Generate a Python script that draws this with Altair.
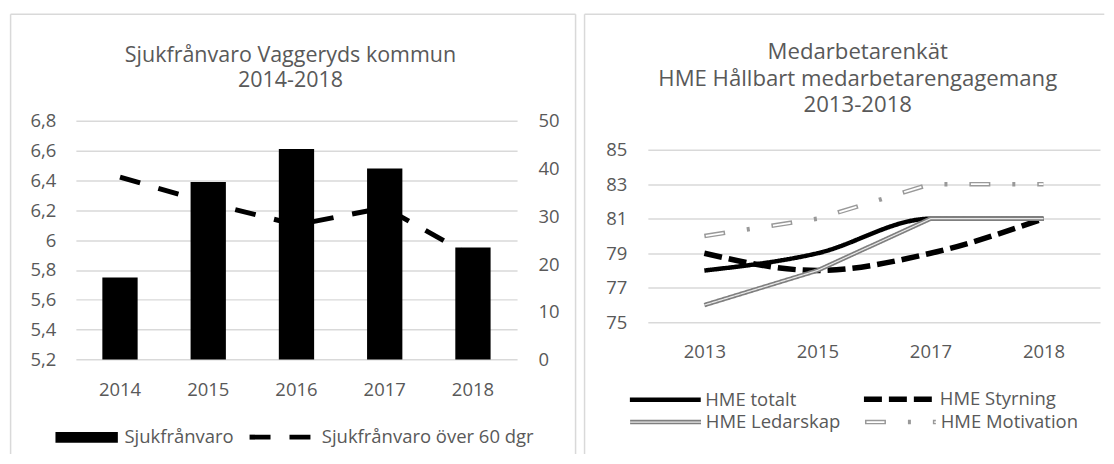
import altair as alt
import pandas as pd

# ---------------- data ----------------
years_left = ["2014", "2015", "2016", "2017", "2018"]
sjukfranvaro = [5.75, 6.39, 6.61, 6.48, 5.95]
sjukfranvaro_60 = [38.2, 32.8, 28.2, 31.8, 21.5]
left_ticks = [5.2, 5.4, 5.6, 5.8, 6.0, 6.2, 6.4, 6.6, 6.8]
right_ticks = [0, 10, 20, 30, 40, 50]

years_right = ["2013", "2015", "2017", "2018"]
hme_totalt = [78, 79, 81, 81]
hme_styrning = [79, 78, 79, 81]
hme_ledarskap = [76, 78, 81, 81]
hme_motivation = [80, 81, 83, 83]
hme_ticks = [75, 77, 79, 81, 83, 85]

left_title = ["Sjukfrånvaro Vaggeryds kommun", "2014-2018"]
right_title = ["Medarbetarenkät", "HME Hållbart medarbetarengagemang", "2013-2018"]

FONT = "Open Sans"
GRAY = "#595959"
GRID = "#d9d9d9"
FRAME = "#d9d9d9"
LBL = 18.5

one = pd.DataFrame({"k": [0]})

# ---------------- left panel ----------------
W1, H1 = 442, 239.3
df_bar = pd.DataFrame({"year": years_left, "value": sjukfranvaro, "series": "Sjukfrånvaro"})
df_l60 = pd.DataFrame({"year": years_left, "value": sjukfranvaro_60, "series": "Sjukfrånvaro över 60 dgr"})

x_left = alt.X("year:N", sort=years_left,
               scale=alt.Scale(paddingInner=0.6, paddingOuter=0.3),
               axis=alt.Axis(title=None, labelAngle=0, domain=False, ticks=False,
                             tickSize=0, labelPadding=21, grid=False))

bars = alt.Chart(df_bar).mark_bar().encode(
    x=x_left,
    y=alt.Y("value:Q", scale=alt.Scale(domain=[5.2, 6.8], zero=False, nice=False),
            axis=alt.Axis(values=left_ticks, title=None, orient="left",
                          labelExpr="replace(format(datum.value, '.1~f'), '.', ',')",
                          grid=True, gridColor=GRID, gridWidth=1.5, domain=False,
                          ticks=False, tickSize=0, labelPadding=20, labelOverlap=False)),
    y2=alt.datum(5.2),
    fill=alt.Fill("series:N", scale=alt.Scale(domain=["Sjukfrånvaro"], range=["#000000"]),
                  legend=alt.Legend(orient="none", legendX=-20.7, legendY=285.75, title=None,
                                    symbolType="M-1,-0.17H1V0.17H-1Z", symbolSize=3906,
                                    symbolStrokeWidth=0, labelOffset=6.4, padding=0,
                                    labelLimit=400)),
)

line60 = alt.Chart(df_l60).mark_line(strokeWidth=5, strokeCap="butt", color="#000000").encode(
    x=x_left,
    y=alt.Y("value:Q", scale=alt.Scale(domain=[0, 50], nice=False),
            axis=alt.Axis(values=right_ticks, title=None, orient="right", grid=False,
                          domain=False, ticks=False, tickSize=0, labelPadding=21)),
    strokeDash=alt.StrokeDash("series:N",
                              scale=alt.Scale(domain=["Sjukfrånvaro över 60 dgr"], range=[[21, 19]]),
                              legend=alt.Legend(orient="none", legendX=171.5, legendY=282, title=None,
                                                symbolType="stroke", symbolSize=4225,
                                                symbolStrokeColor="#000000", symbolStrokeWidth=5,
                                                labelOffset=4.9, padding=0, labelLimit=400)),
)

lx0, lx1, ly0, ly1 = -65.4, 500.6, -106.7, 334
frame_l = [
    alt.Chart(one).mark_rule(color=FRAME, strokeWidth=1.5).encode(
        x=alt.value(lx0), y=alt.value(ly0), y2=alt.value(ly1)),
    alt.Chart(one).mark_rule(color=FRAME, strokeWidth=1.5).encode(
        x=alt.value(lx0), x2=alt.value(lx1), y=alt.value(ly0)),
    alt.Chart(one).mark_rule(color=FRAME, strokeWidth=1.5).encode(
        x=alt.value(lx1), y=alt.value(ly0), y2=alt.value(ly1)),
]
title_l = alt.Chart(one).mark_text(text=left_title, font=FONT, fontSize=21.5, color=GRAY,
                                   lineHeight=25.5, align="center", baseline="alphabetic").encode(
    x=alt.value(215), y=alt.value(-58.8))

left = alt.layer(*frame_l, title_l, bars, line60).resolve_scale(y="independent").properties(
    width=W1, height=H1)

# ---------------- right panel ----------------
# plot origin shared with left panel (page y=120); data area from rel 29 to 202
W2, H2 = 453, 202
series_a = ["HME totalt", "HME Styrning"]
df_a = pd.DataFrame({"year": years_right * 2,
                     "value": hme_totalt + hme_styrning,
                     "series": [series_a[0]] * 4 + [series_a[1]] * 4})
df_led = pd.DataFrame({"year": years_right, "value": hme_ledarskap, "series": "HME Ledarskap"})
df_mot = pd.DataFrame({"year": years_right, "value": hme_motivation, "series": "HME Motivation"})

x_right = alt.X("year:N", sort=years_right, scale=alt.Scale(type="point", padding=0.5),
                axis=alt.Axis(title=None, labelAngle=0, domain=False, ticks=False,
                              tickSize=0, labelPadding=20, grid=False))
y_right = alt.Y("value:Q", scale=alt.Scale(domain=[75, 85], nice=False, zero=False, range=[202, 29]),
                axis=alt.Axis(values=hme_ticks, title=None, grid=True, gridColor=GRID,
                              gridWidth=1.5, domain=False, ticks=False, tickSize=0,
                              labelPadding=21, labelOverlap=False))

leg_common = dict(orient="none", title=None, direction="horizontal", symbolType="stroke",
                  symbolSize=5041, padding=0, labelLimit=400)

lines_a = alt.Chart(df_a).mark_line(strokeCap="butt", strokeJoin="round",
                                    interpolate="monotone", color="#000000").encode(
    x=x_right, y=y_right,
    strokeDash=alt.StrokeDash("series:N", scale=alt.Scale(domain=series_a, range=[[1, 0], [18, 7]]),
                              legend=alt.Legend(legendX=-20.5, legendY=240.3, symbolStrokeWidth=5,
                                                symbolStrokeColor="#000000", labelOffset=2,
                                                columnPadding=56, **leg_common)),
    strokeWidth=alt.StrokeWidth("series:N", scale=alt.Scale(domain=series_a, range=[4.5, 5.5]),
                                legend=None),
)


def styled_line(df, name, color, width, dash, lx, ly, labels=True):
    legend_kw = dict(legendX=lx, legendY=ly, symbolStrokeWidth=width,
                     symbolStrokeColor=color, labelOffset=2.35, **leg_common)
    if not labels:
        legend_kw["labelExpr"] = "''"
    return alt.Chart(df).mark_line(strokeCap="butt", strokeJoin="round", color=color,
                                   strokeWidth=width).encode(
        x=x_right, y=y_right,
        strokeDash=alt.StrokeDash("series:N", scale=alt.Scale(domain=[name], range=[dash]),
                                  legend=alt.Legend(**legend_kw)),
    )


led_outer = styled_line(df_led, "HME Ledarskap", "#7f7f7f", 4.5, [1, 0], -20.25, 263.95)
mot_outer = styled_line(df_mot, "HME Motivation", "#999999", 4.5, [21, 22, 3, 22], 215.05, 263.95)
led_inner = styled_line(df_led, "HME Ledarskap", "#e8e8e8", 1.2, [1, 0], -18.75, 265.45, labels=False)
mot_inner = styled_line(df_mot, "HME Motivation", "#ffffff", 1.8, [0, 1.5, 18, 48.5], 216.55, 265.45,
                        labels=False)

rx0, rx1, ry0, ry1 = -63.4, 457.3, -106.7, 334
frame_r = [
    alt.Chart(one).mark_rule(color=FRAME, strokeWidth=1.5).encode(
        x=alt.value(rx0), y=alt.value(ry0), y2=alt.value(ry1)),
    alt.Chart(one).mark_rule(color=FRAME, strokeWidth=1.5).encode(
        x=alt.value(rx0), x2=alt.value(rx1), y=alt.value(ry0)),
]
title_r = alt.Chart(one).mark_text(text=right_title, font=FONT, fontSize=22.2, color=GRAY,
                                   lineHeight=26.7, align="center", baseline="alphabetic").encode(
    x=alt.value(210.3), y=alt.value(-61.7))

right = alt.layer(*frame_r, title_r, lines_a, led_outer, mot_outer, led_inner, mot_inner).resolve_scale(
    strokeDash="independent", strokeWidth="independent"
).resolve_legend(strokeDash="independent").properties(width=W2, height=H2)

chart = alt.hconcat(left, right, spacing=6).resolve_scale(
    strokeDash="independent", strokeWidth="independent", fill="independent"
).resolve_legend(
    strokeDash="independent", fill="independent"
).properties(
    padding={"left": 1, "top": 4.5, "right": 0, "bottom": 0}, background="white"
).configure_view(stroke=None).configure_axis(
    labelFont=FONT, labelFontSize=LBL, labelColor=GRAY
).configure_legend(
    labelFont=FONT, labelFontSize=LBL, labelColor=GRAY
)

chart.save("out.html", embed_options={"renderer": "svg", "actions": False})
